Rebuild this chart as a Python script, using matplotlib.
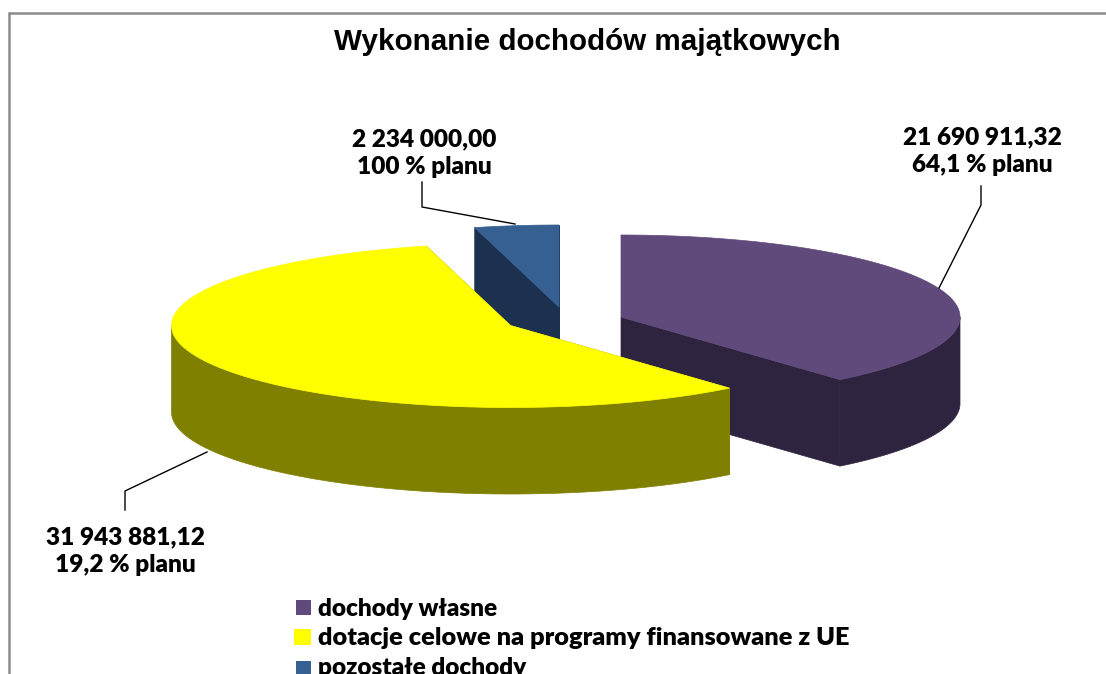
import numpy as np
import matplotlib
matplotlib.use('Agg')
import matplotlib.pyplot as plt
from matplotlib.patches import Polygon, Rectangle

title = "Wykonanie dochodów majątkowych"
categories = ["dochody własne", "dotacje celowe na programy finansowane z UE", "pozostałe dochody"]
values = [21690911.32, 31943881.12, 2234000.00]
plan_labels = ["64,1 % planu", "19,2 % planu", "100 % planu"]

top_colors = ['#604A7B', '#FFFF00', '#366092']
side_colors = ['#2F2440', '#808000', '#1C3150']

# layout of the exploded pie, in pixels of the picture
centers = [(621, 317), (510.5, 325.5), (559, 307)]
rx, ry, depth = 339, 82, 86.5
draw_order = [2, 0, 1]
label_pos = [(982, 151), (125, 551), (424, 153)]
leaders = [
    [(981, 186), (981, 205), (939, 288)],
    [(207, 452), (125, 491), (125, 510)],
    [(422, 182), (422, 207), (515, 224)],
]
legend_y = [609, 638, 668]
legend_sizes = [17.6, 18.3, 17.6]
legend_boxes = [(296, 600, 15, 15), (294, 629, 17, 16), (296, 661, 15, 15)]


def rim(cx, cy, a0, a1):
    t = np.radians(np.linspace(a0, a1, 200))
    return np.column_stack([cx + rx * np.sin(t), cy - ry * np.cos(t)])


def fmt(v):
    return f"{v:,.2f}".replace(",", " ").replace(".", ",")


fig = plt.figure(figsize=(11.06, 6.74), dpi=100)
ax = fig.add_axes([0, 0, 1, 1])
ax.set_xlim(0, 1106)
ax.set_ylim(674, 0)
ax.axis('off')

# chart frame, runs off the picture to the right and bottom
ax.plot([9, 9, 1106], [674, 13, 13], color='#8C8C8C', lw=1.8, solid_joinstyle='miter')

shares = np.array(values) / sum(values) * 360
ends = np.cumsum(shares)
starts = ends - shares

for i in draw_order:
    cx, cy = centers[i]
    a0, a1 = starts[i], ends[i]
    top = rim(cx, cy, a0, a1)
    apex = np.array([cx, cy])
    shift = np.array([0, depth])
    # cut faces
    for edge in (top[0], top[-1]):
        ax.add_patch(Polygon([apex, edge, edge + shift, apex + shift],
                             fc=side_colors[i], ec=side_colors[i], lw=0.5))
    # outer wall, only the front half of the rim is seen
    f0, f1 = max(a0, 90), min(a1, 270)
    if f1 > f0:
        front = rim(cx, cy, f0, f1)
        ax.add_patch(Polygon(np.vstack([front, (front + shift)[::-1]]),
                             fc=side_colors[i], ec=side_colors[i], lw=0.5))
    ax.add_patch(Polygon(np.vstack([apex, top]), fc=top_colors[i], ec=top_colors[i], lw=0.5))

for pts in leaders:
    xs, ys = zip(*pts)
    ax.plot(xs, ys, color='black', lw=1)

for i in range(3):
    x, y = label_pos[i]
    ax.text(x, y, fmt(values[i]) + "\n" + plan_labels[i], ha='center', va='center',
            family='Lato', fontweight='heavy', fontsize=17.6, linespacing=1.35, color='black')

ax.text(587, 42, title, ha='center', va='center', family='Liberation Sans',
        fontweight='bold', fontsize=21.3, color='black')

for i in range(3):
    ax.add_patch(Rectangle(legend_boxes[i][:2], legend_boxes[i][2], legend_boxes[i][3],
                           fc=top_colors[i], ec='none'))
    ax.text(318, legend_y[i], categories[i], ha='left', va='center', family='Lato',
            fontweight='heavy', fontsize=legend_sizes[i], color='black')

fig.savefig('out.png', dpi=100)
